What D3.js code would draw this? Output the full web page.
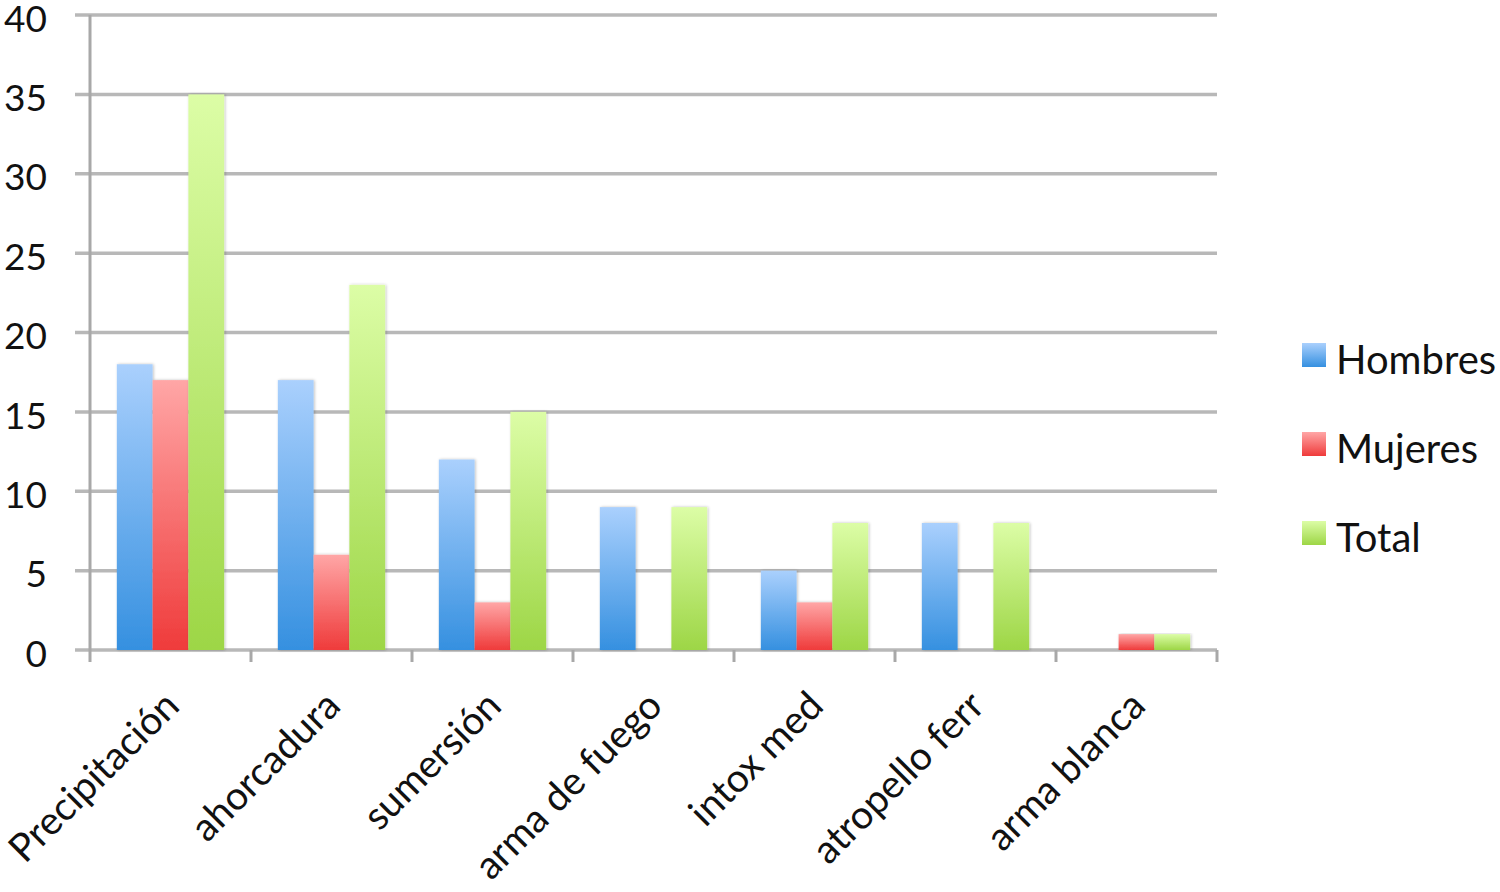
<!DOCTYPE html>
<html><head><meta charset="utf-8">
<script src="https://cdn.jsdelivr.net/npm/d3@7"></script>
<style>body{margin:0;background:#fff}svg{display:block}text{font-family:Lato,"Open Sans",sans-serif;fill:#111}</style>
</head><body>
<svg id="c" width="1500" height="892"></svg>
<script>
const categories = ["Precipitación","ahorcadura","sumersión","arma de fuego","intox med","atropello ferr","arma blanca"];
const seriesNames = ["Hombres","Mujeres","Total"];
const hombres = [18,17,12,9,5,8,0];
const mujeres = [17,6,3,0,3,0,1];
const total = [35,23,15,9,8,8,1];
const yTicks = [0,5,10,15,20,25,30,35,40];
const seriesValues = [hombres, mujeres, total];

(function(){
const svg = d3.select("#c");
const pL = 90, pR = 1217, pT = 15, pB = 650;
const x = d3.scaleBand().domain(categories).range([pL,pR]).paddingInner(0).paddingOuter(0);
const xs = d3.scaleBand().domain(seriesNames).range([0,x.bandwidth()]).paddingOuter(0.75).paddingInner(0);
const y = d3.scaleLinear().domain([0,40]).range([pB,pT]);

const grads = [["#aad0fd","#3590e0"],["#ffa6a6","#ef3b3b"],["#dcfda6","#9dd646"]];
const defs = svg.append("defs");
grads.forEach((g,i)=>{
  const lg = defs.append("linearGradient").attr("id","g"+i).attr("x1",0).attr("y1",0).attr("x2",0).attr("y2",1);
  lg.append("stop").attr("offset","0%").attr("stop-color",g[0]);
  lg.append("stop").attr("offset","100%").attr("stop-color",g[1]);
});
const f = defs.append("filter").attr("id","sh").attr("x","-20%").attr("y","-5%").attr("width","140%").attr("height","110%");
f.append("feGaussianBlur").attr("in","SourceAlpha").attr("stdDeviation",1.5).attr("result","b");
f.append("feOffset").attr("in","b").attr("dx",1).attr("dy",0).attr("result","o");
f.append("feComponentTransfer").attr("in","o").attr("result","o2").append("feFuncA").attr("type","linear").attr("slope",0.25);
const m = f.append("feMerge"); m.append("feMergeNode").attr("in","o2"); m.append("feMergeNode").attr("in","SourceGraphic");

// gridlines
svg.append("g").selectAll("line").data(yTicks).join("line")
  .attr("x1",pL-15).attr("x2",pR).attr("y1",d=>y(d)).attr("y2",d=>y(d))
  .attr("stroke","#b8b8b8").attr("stroke-width",3.5);

// y labels
svg.append("g").selectAll("text").data(yTicks).join("text")
  .attr("x",47).attr("y",d=>y(d)).attr("dy","0.45em").attr("text-anchor","end")
  .attr("font-size",37).text(d=>d);

// vertical axis line
svg.append("line").attr("x1",pL).attr("x2",pL).attr("y1",pT).attr("y2",pB+12)
  .attr("stroke","#a8a8a8").attr("stroke-width",3);
// category ticks
const bounds = categories.map(c=>x(c)).concat([pR]);
svg.append("g").selectAll("line").data(bounds.slice(1)).join("line")
  .attr("x1",d=>d).attr("x2",d=>d).attr("y1",pB).attr("y2",pB+12)
  .attr("stroke","#a8a8a8").attr("stroke-width",3);

// bars
const bars = svg.append("g");
seriesNames.forEach((s,si)=>{
  bars.append("g").selectAll("rect").data(categories).join("rect")
    .attr("x",(c)=>x(c)+xs(s)).attr("width",xs.bandwidth())
    .attr("y",(c,i)=>y(seriesValues[si][i])).attr("height",(c,i)=>y(0)-y(seriesValues[si][i]))
    .attr("fill",`url(#g${si})`).attr("filter","url(#sh)");
});

// x labels
svg.append("g").selectAll("text").data(categories).join("text")
  .attr("text-anchor","end")
  .attr("transform",c=>`translate(${x(c)+x.bandwidth()/2+11},${pB+58}) rotate(-45)`)
  .attr("font-size",39).text(c=>c);

// legend
const lg = svg.append("g");
seriesNames.forEach((s,i)=>{
  const yy = 343 + i*89;
  lg.append("rect").attr("x",1302).attr("y",yy).attr("width",24).attr("height",24).attr("fill",`url(#g${i})`);
  lg.append("text").attr("x",1336).attr("y",yy+31).attr("font-size",40).text(s);
});
})();
</script>
</body></html>
